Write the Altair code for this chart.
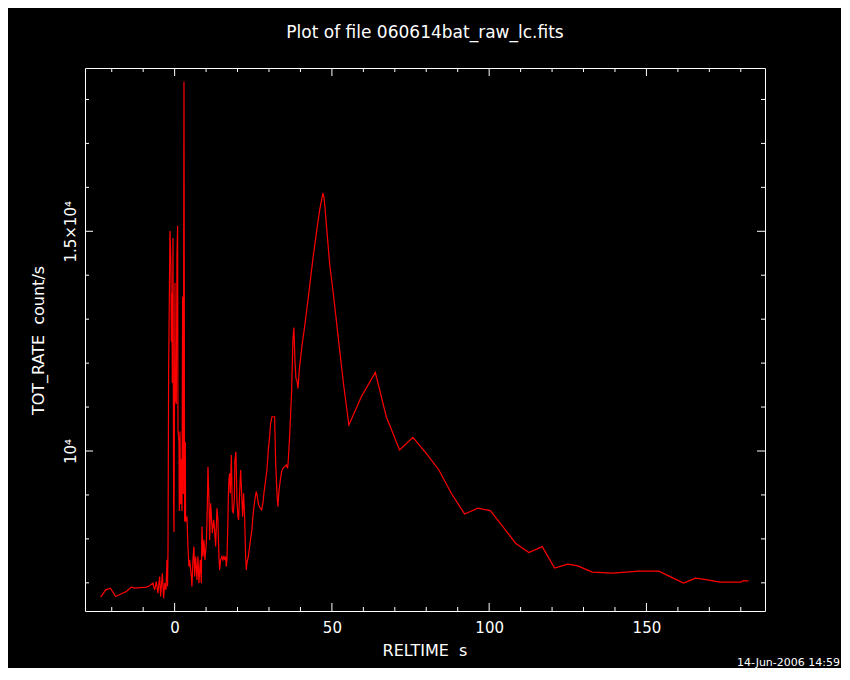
import altair as alt
import pandas as pd

# ---------------- text ----------------
TITLE = "Plot of file 060614bat_raw_lc.fits"
DATE_STAMP = "14-Jun-2006 14:59"
X_TITLE = "RELTIME\u00a0\u00a0s"
Y_TITLE = "TOT_RATE\u00a0\u00a0count/s"

# ---------------- data ----------------
reltime = [
    -23.52, -21.93, -20.44, -18.75, -16.94, -15.35, -13.76, -12.71, -9.0, -7.95,
    -6.9, -6.36, -5.82, -5.31, -4.77, -4.45, -3.91, -3.5, -3.18, -2.75,
    -2.45, -2.25, -2.1, -1.91, -1.48, -1.17, -1.06, -0.85, -0.74, -0.53,
    -0.32, -0.21, 0.11, 0.21, 0.53, 0.74, 0.95, 1.06, 1.38, 1.48,
    1.69, 1.91, 2.12, 2.33, 2.54, 2.76, 2.97, 3.18, 3.39, 3.5,
    3.91, 4.23, 4.55, 4.77, 5.31, 5.5, 5.82, 6.13, 6.36, 6.68,
    7.09, 7.41, 7.72, 8.17, 8.49, 8.68, 9.0, 9.31, 9.63, 10.08,
    10.39, 10.59, 10.9, 11.13, 11.44, 11.76, 11.98, 12.4, 12.71, 13.03,
    13.45, 13.76, 14.08, 14.3, 14.62, 15.04, 15.35, 15.67, 15.99, 16.21,
    16.43, 16.62, 16.85, 17.07, 17.26, 17.48, 17.71, 18.02, 18.34, 18.66,
    18.98, 19.17, 19.49, 19.8, 20.12, 20.34, 20.66, 20.98, 21.3, 21.61,
    21.93, 22.25, 22.57, 22.79, 22.98, 23.43, 23.84, 24.25, 24.57, 24.89,
    25.21, 25.65, 25.97, 26.29, 26.7, 27.24, 27.65, 28.07, 28.39, 28.93,
    29.34, 29.78, 30.2, 30.51, 30.93, 31.79, 32.1, 32.52, 32.83, 33.15,
    33.6, 34.01, 34.42, 34.97, 35.5, 35.92, 36.14, 36.55, 36.87, 37.19,
    37.6, 37.92, 38.24, 38.56, 38.88, 39.2, 39.73, 40.5, 41.1, 41.86,
    42.9, 43.97, 45.04, 46.09, 46.95, 47.14, 47.46, 47.78, 48.22, 49.27,
    50.32, 51.4, 52.45, 53.81, 55.4, 59.35, 63.8, 67.29, 71.52, 75.75,
    80.01, 84.01, 87.95, 92.18, 96.41, 100.35, 104.35, 108.39, 112.62, 116.88,
    120.79, 125.02, 128.2, 132.77, 139.32, 143.36, 147.58, 153.94, 157.88, 161.79,
    165.61, 167.93, 173.46, 180.13, 180.64, 182.45,
]
tot_rate = [
    6675, 6841, 6880, 6689, 6750, 6802, 6902, 6880, 6902, 6932,
    6993, 6841, 7030, 6766, 7143, 6689, 7220, 6652, 6993, 6841,
    7523, 6916, 7845, 11859, 15007, 14218, 12489, 13591, 11545, 14848,
    8868, 8159, 13825, 11227, 11068, 14455, 15125, 10482, 10205, 8636,
    10441, 8789, 9811, 8636, 13511, 9023, 18404, 8395, 10205, 8395,
    8507, 7825, 7370, 7523, 7143, 6916, 7523, 7825, 7143, 7598,
    7068, 7598, 6993, 7523, 6993, 8280, 7598, 7977, 7523, 7902,
    8734, 9643, 8961, 7977, 8811, 8432, 8130, 8432, 8205, 7825,
    8698, 8432, 7598, 7295, 7523, 7598, 7523, 7598, 7523, 7598,
    7370, 7523, 8130, 8961, 9341, 9493, 9039, 9909, 8659, 8584,
    8886, 9795, 9984, 8886, 8507, 8432, 9039, 9568, 9039, 8507,
    9039, 8507, 7598, 7295, 7448, 7598, 7825, 8052, 8205, 8507,
    8734, 8961, 9075, 8961, 8773, 8698, 8659, 8811, 9039, 9341,
    9568, 10023, 10325, 10630, 10780, 10780, 9795, 9039, 8734, 9075,
    9341, 9530, 9607, 9643, 9682, 9607, 9795, 10325, 10818, 11348,
    12523, 12811, 12068, 11652, 11614, 11425, 11916, 12400, 12711, 13130,
    13734, 14379, 14947, 15477, 15795, 15871, 15780, 15553, 15175, 14266,
    13659, 12977, 12300, 11461, 10591, 11234, 11789, 10780, 10023, 10311,
    9948, 9568, 9039, 8568, 8698, 8643, 8280, 7902, 7689, 7825,
    7334, 7425, 7386, 7243, 7220, 7243, 7266, 7266, 7130, 6993,
    7107, 7084, 7016, 7016, 7045, 7045,
]

x_major = [0, 50, 100, 150]
x_minor = [-20, -10, 10, 20, 30, 40, 60, 70, 80, 90, 110, 120, 130, 140, 160, 170, 180]
y_major = [10000, 15000]
y_major_labels = ["10\u2074", "1.5\u00d710\u2074"]
y_minor = [7000, 8000, 9000, 11000, 12000, 13000, 14000, 16000, 17000, 18000]

X_DOMAIN = [-28.5, 187.7]
Y_DOMAIN = [6359, 18716]

# ---------------- layout / style ----------------
W, H = 680, 543
MAJ, MIN = 8, 4
FONT = "DejaVu Sans"
WHITE = "white"

xs = alt.Scale(domain=X_DOMAIN, nice=False, zero=False)
ys = alt.Scale(domain=Y_DOMAIN, nice=False, zero=False)

label_expr = "".join(
    f"datum.value == {v} ? '{t}' : " for v, t in zip(y_major, y_major_labels)
) + "''"

df = pd.DataFrame({"t": reltime, "rate": tot_rate})
df["i"] = range(len(df))

x_axis = alt.Axis(
    values=x_major, ticks=False, tickSize=0, domain=False, grid=False,
    labelColor=WHITE, labelFont=FONT, labelFontSize=15, labelBaseline="alphabetic",
    labelPadding=21, labelFlush=False, labelOverlap=False,
    title=X_TITLE, titleColor=WHITE, titleFont=FONT, titleFontSize=16,
    titleFontWeight="normal", titleX=339.5, titleY=44,
    titleBaseline="alphabetic", titleAlign="center",
)
y_axis = alt.Axis(
    values=y_major, labelExpr=label_expr, ticks=False, tickSize=0, domain=False,
    grid=False, labelColor=WHITE, labelFont=FONT, labelFontSize=15,
    labelAngle=-90, labelAlign="center", labelBaseline="alphabetic",
    labelPadding=10, labelFlush=False, labelOverlap=False,
    title=Y_TITLE, titleColor=WHITE, titleFont=FONT, titleFontSize=16,
    titleFontWeight="normal", titleX=-42, titleY=272, titleAngle=270,
    titleBaseline="alphabetic", titleAlign="center",
)

line = alt.Chart(df).mark_line(color="#ff0000", strokeWidth=1.2).encode(
    x=alt.X("t:Q", scale=xs, axis=x_axis),
    y=alt.Y("rate:Q", scale=ys, axis=y_axis),
    order=alt.Order("i:Q"),
)


def yticks(vals, x0, x1):
    return alt.Chart(pd.DataFrame({"rate": vals})).mark_rule(
        color=WHITE, strokeWidth=1
    ).encode(
        y=alt.Y("rate:Q", scale=ys, axis=y_axis),
        x=alt.value(x0), x2=alt.value(x1),
    )


def xticks(vals, y0, y1):
    return alt.Chart(pd.DataFrame({"t": vals})).mark_rule(
        color=WHITE, strokeWidth=1
    ).encode(
        x=alt.X("t:Q", scale=xs, axis=x_axis),
        y=alt.value(y0), y2=alt.value(y1),
    )


tick_layers = [
    yticks(y_major, 0, MAJ), yticks(y_minor, 0, MIN),
    yticks(y_major, W, W - MAJ), yticks(y_minor, W, W - MIN),
    xticks(x_major, H, H - MAJ), xticks(x_minor, H, H - MIN),
    xticks(x_major, 0, MAJ), xticks(x_minor, 0, MIN),
]

title_layer = alt.Chart(pd.DataFrame({"txt": [TITLE]})).mark_text(
    color=WHITE, font=FONT, fontSize=17, align="center", baseline="alphabetic"
).encode(x=alt.value(340), y=alt.value(-29.7), text="txt:N")

date_layer = alt.Chart(pd.DataFrame({"txt": [DATE_STAMP]})).mark_text(
    color=WHITE, font=FONT, fontSize=11, align="right", baseline="alphabetic"
).encode(x=alt.value(755), y=alt.value(598), text="txt:N")

chart = alt.layer(line, *tick_layers, title_layer, date_layer).properties(
    width=W, height=H,
    padding={"left": 77, "top": 60, "right": 76, "bottom": 57},
    autosize=alt.AutoSizeParams(type="none"),
).configure(background="black").configure_view(
    stroke=WHITE, strokeWidth=1, fill="black"
)

chart.save("out.html", embed_options={"renderer": "svg", "actions": False})
